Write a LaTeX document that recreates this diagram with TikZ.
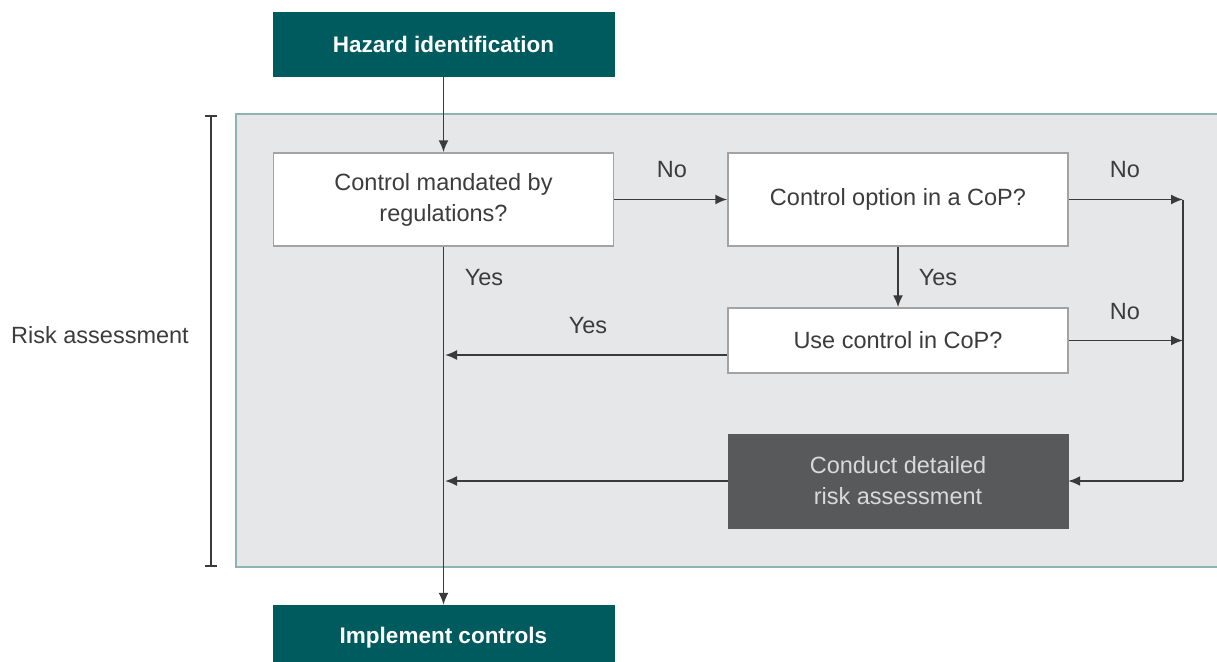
\documentclass[tikz,border=0pt]{standalone}
\usepackage{fontspec}
\setmainfont{Liberation Sans}
\usetikzlibrary{arrows.meta,calc}
\definecolor{teal1}{HTML}{005B5F}
\definecolor{panelfill}{HTML}{E6E7E9}
\definecolor{panelline}{HTML}{8DB3B5}
\definecolor{boxline}{HTML}{A3A3A3}
\definecolor{darkbox}{HTML}{58595B}
\definecolor{txt}{HTML}{3C3C3C}
\definecolor{conn}{HTML}{3A3A3A}
\tikzset{
  x=1pt, y=-1pt,
  basefont/.style={font=\fontsize{23.5}{31}\selectfont},
  tealbox/.style={fill=teal1, draw=teal1, text=white, minimum width=341pt, minimum height=64pt, font=\fontsize{22.5}{26}\selectfont\bfseries, inner sep=0pt},
  qbox/.style={fill=white, draw=boxline, line width=1.5pt, text=txt, minimum width=340pt, align=center, basefont, inner sep=0pt},
  dbox/.style={fill=darkbox, draw=darkbox, text=white!85!black, minimum width=340pt, minimum height=94pt, align=center, basefont, inner sep=0pt},
  lbl/.style={text=txt, basefont, inner sep=0pt},
  arr/.style={draw=conn, line width=1.8pt, -{Latex[length=12pt,width=10pt]}},
  ln/.style={draw=conn, line width=1.8pt},
}
\begin{document}
\begin{tikzpicture}
\useasboundingbox (0,0) rectangle (1217,661);
% panel
\draw[fill=panelfill, draw=panelline, line width=1.8pt] (236,114) rectangle (1240,567);
% bracket
\coordinate (bt) at (211,116);
\coordinate (bb) at (211,566);
\draw[ln, line width=2.2pt] (bt) -- (bb);
\draw[ln, line width=2.2pt] ($(bt)+(-6,0)$) -- ($(bt)+(6,0)$);
\draw[ln, line width=2.2pt] ($(bb)+(-6,0)$) -- ($(bb)+(6,0)$);
\node[lbl] (risk) at (100,335) {Risk assessment};
% nodes
\node[tealbox] (haz) at (443.5,44) {Hazard identification};
\node[tealbox, minimum height=66pt] (impl) at (443.5,638) {Implement controls};
\node[qbox, minimum height=93pt] (q1) at (443.5,199.5) {Control mandated by\\regulations?};
\node[qbox, minimum height=93pt] (q2) at (898,199.5) {Control option in a CoP?};
\node[qbox, minimum height=65pt] (q3) at (898,340.5) {Use control in CoP?};
\node[dbox] (q4) at (898,481) {Conduct detailed\\risk assessment};
% junction coordinates
\coordinate (jr1) at (1183,199.5);
\coordinate (jr2) at (1183,340.5);
\coordinate (jr3) at (1183,481);
\coordinate (ml3) at (445,355);
\coordinate (ml4) at (445,481);
% connectors
\draw[arr] (haz.south) -- (q1.north);
\draw[arr] (q1.south) -- (impl.north);
\draw[arr] (q1.east) -- (q2.west);
\draw[arr] (q2.east) -- (jr1);
\draw[arr] (q3.east) -- (jr2);
\draw[ln] (jr1) -- (jr3);
\draw[arr] (jr3) -- (q4.east);
\draw[arr] (q2.south) -- (q3.north);
\draw[arr] ([yshift=-14.5pt]q3.west) -- (ml3);
\draw[arr] (q4.west) -- (ml4);
% labels
\node[lbl] (no1) at (672,170) {No};
\node[lbl] (no2) at (1125,170) {No};
\node[lbl] (no3) at (1125,312) {No};
\node[lbl] (yes1) at (484,278) {Yes};
\node[lbl] (yes2) at (938,278) {Yes};
\node[lbl] (yes3) at (588,326) {Yes};
\end{tikzpicture}
\end{document}
